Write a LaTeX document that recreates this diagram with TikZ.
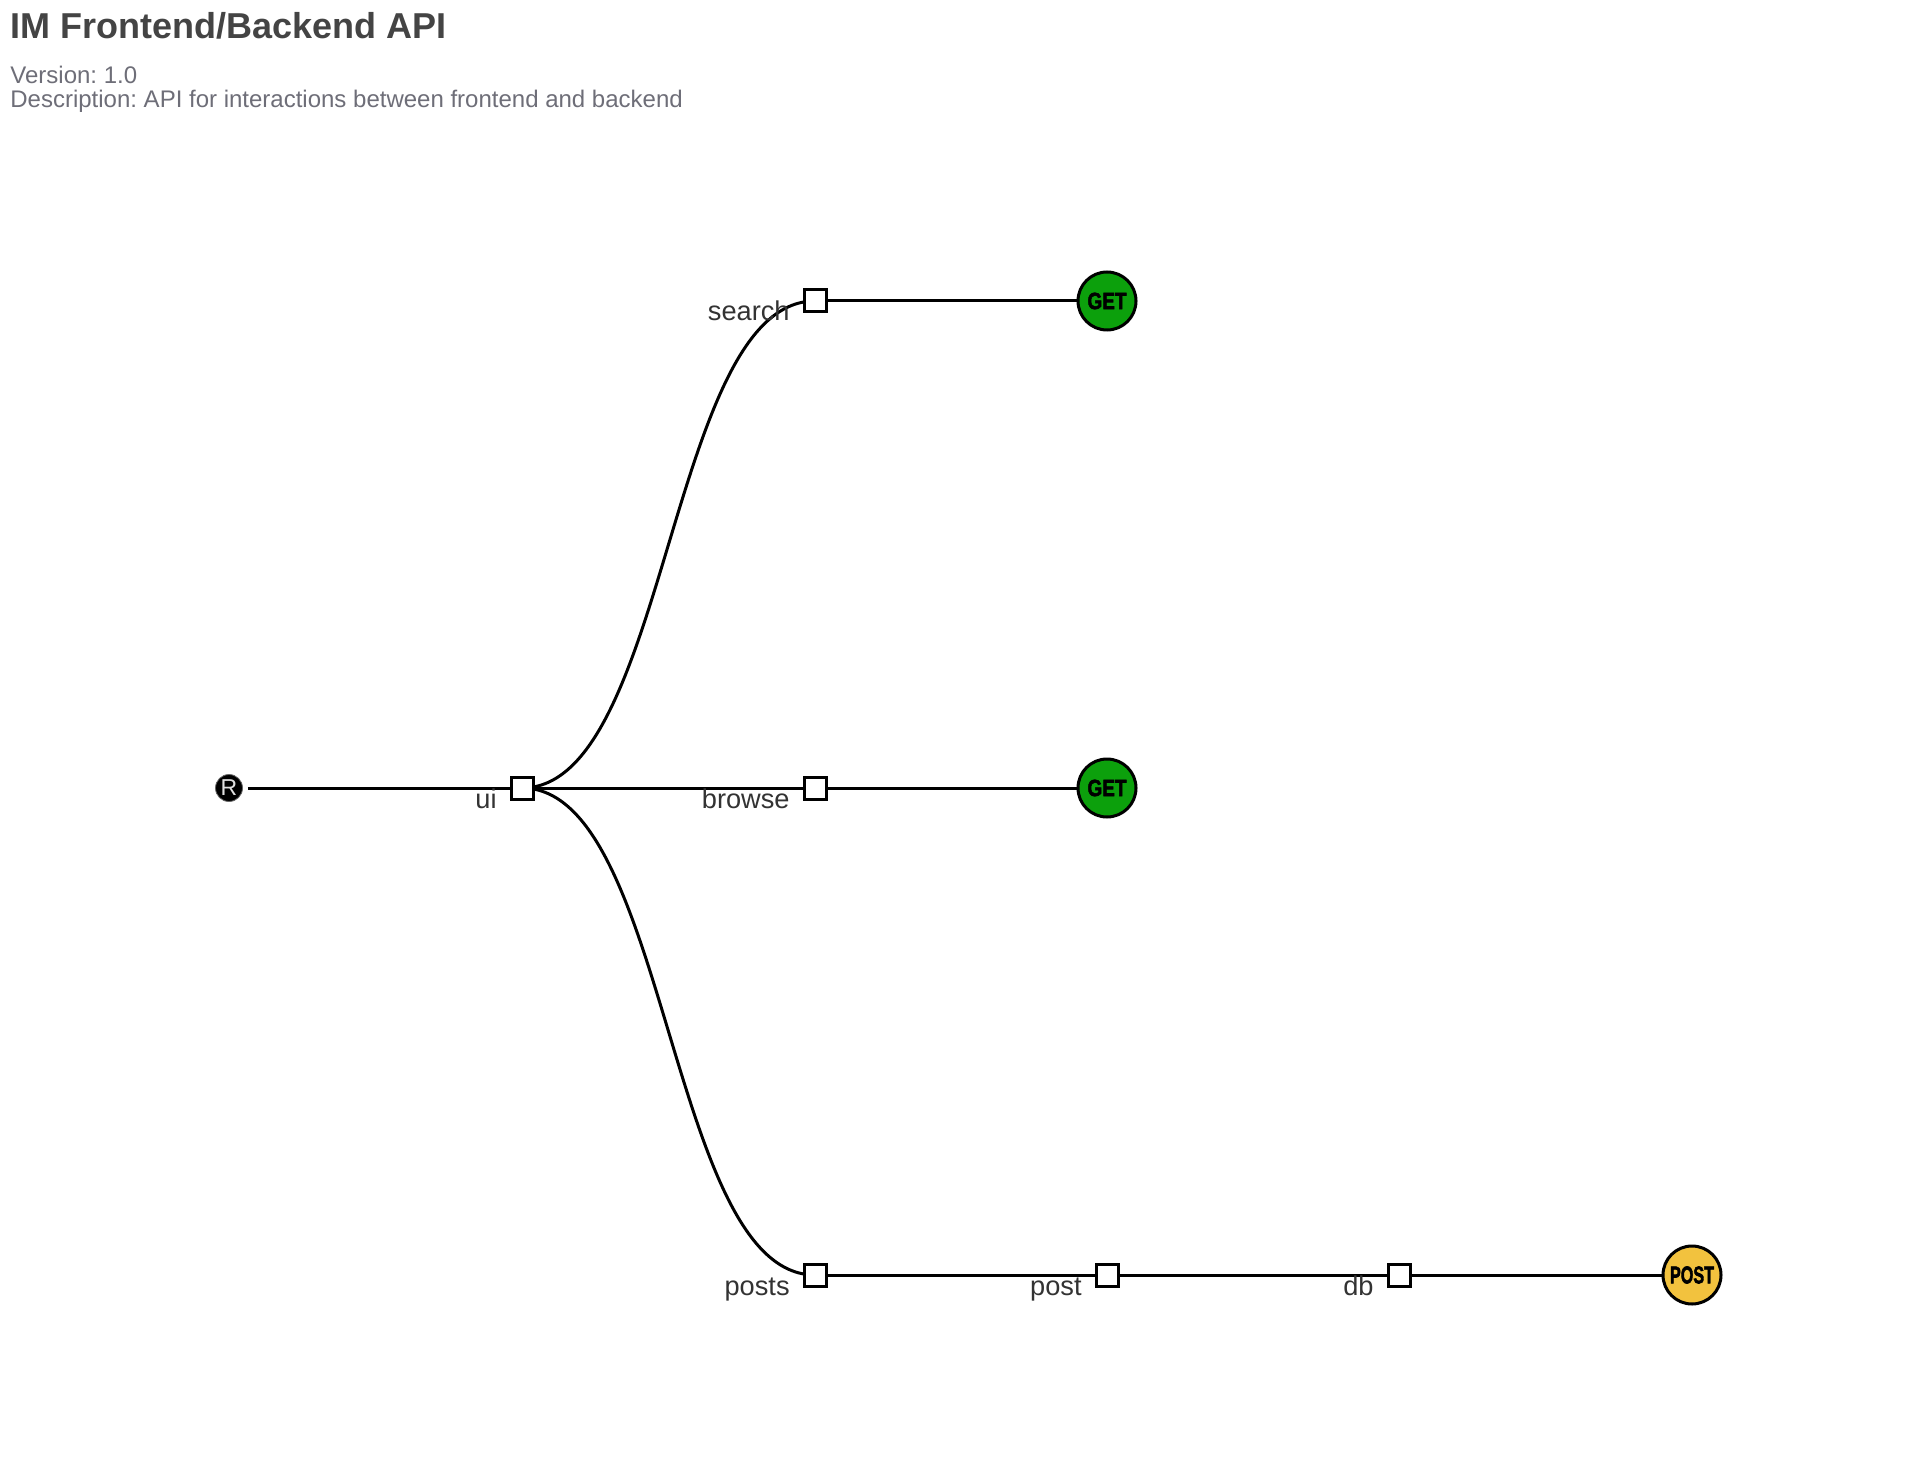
\documentclass[tikz,border=0pt]{standalone}
\usepackage{fontspec}
\setmainfont{Liberation Sans}
\newfontfamily\methfont[FakeBold=2.5]{Liberation Sans Bold}
\usetikzlibrary{calc}
\pgfdeclarelayer{back}
\pgfdeclarelayer{bg}
\pgfsetlayers{back,bg,main}
\definecolor{titlec}{HTML}{444444}
\definecolor{subc}{HTML}{6E6E78}
\definecolor{lblc}{HTML}{333333}
\definecolor{getc}{HTML}{0CA00C}
\definecolor{postc}{HTML}{F2C23E}
\frenchspacing
\begin{document}
\begin{tikzpicture}[x=0.5pt,y=-0.5pt,
 seg/.style={draw=black, line width=1.5pt, fill=white, rectangle, minimum size=11pt, inner sep=0pt},
 meth/.style={circle, draw=black, line width=1.5pt, minimum size=29pt, inner sep=0pt},
 rootn/.style={circle, fill=black, draw=black!60, line width=0.4pt, minimum size=13.5pt, inner sep=0pt, text=black!12, font=\fontsize{11.5pt}{12pt}\selectfont},
 lbl/.style={anchor=base east, inner sep=0pt, text=lblc, font=\fontsize{13.6pt}{16pt}\selectfont},
 link/.style={draw=black, line width=1.5pt}]
\begin{pgfonlayer}{back}
\fill[white] (0,0) rectangle (1922,1476);
\end{pgfonlayer}
\useasboundingbox (0,0) rectangle (1922,1476);
% header
\node[anchor=base west, inner sep=0pt, text=titlec, font=\bfseries\fontsize{18pt}{21pt}\selectfont] (title) at (10,39) {IM Frontend/Backend API};
\node[anchor=base west, inner sep=0pt, text=subc, font=\fontsize{12pt}{14pt}\selectfont] (version) at (10,84) {Version: 1.0};
\node[anchor=base west, inner sep=0pt, text=subc, font=\fontsize{12pt}{14pt}\selectfont] (descr) at (10,108) {Description: API for interactions between frontend and backend};
% nodes
\node[rootn] (root) at (229,788) {R};
\node[seg] (ui) at (522,788) {};
\node[seg] (search) at (815,301) {};
\node[seg] (browse) at (815,788) {};
\node[seg] (posts) at (815,1275) {};
\node[seg] (post) at (1107,1275) {};
\node[seg] (db) at (1399,1275) {};
\node[meth, fill=getc] (get1) at (1107,301) {\resizebox{19.5pt}{8.2pt}{\methfont GET}};
\node[meth, fill=getc] (get2) at (1107,788) {\resizebox{19.5pt}{8.2pt}{\methfont GET}};
\node[meth, fill=postc] (postm) at (1692,1275) {\resizebox{22pt}{8.5pt}{\methfont POST}};
% labels
\node[lbl] (uil) at ([xshift=-12.5pt,yshift=-10pt]ui.center) {ui};
\node[lbl] (searchl) at ([xshift=-12.5pt,yshift=-10pt]search.center) {search};
\node[lbl] (browsel) at ([xshift=-12.5pt,yshift=-10pt]browse.center) {browse};
\node[lbl] (postsl) at ([xshift=-12.5pt,yshift=-10pt]posts.center) {posts};
\node[lbl] (postl) at ([xshift=-12.5pt,yshift=-10pt]post.center) {post};
\node[lbl] (dbl) at ([xshift=-12.5pt,yshift=-10pt]db.center) {db};
% links
\begin{pgfonlayer}{bg}
\draw[link] ([xshift=2.5pt]root.east) -- (ui.center);
\draw[link] (ui.center) .. controls +(146.5,0) and +(-146.5,0) .. (search.center);
\draw[link] (ui.center) -- (browse.center);
\draw[link] (ui.center) .. controls +(146.5,0) and +(-146.5,0) .. (posts.center);
\draw[link] (search.center) -- (get1.center);
\draw[link] (browse.center) -- (get2.center);
\draw[link] (posts.center) -- (post.center);
\draw[link] (post.center) -- (db.center);
\draw[link] (db.center) -- (postm.center);
\end{pgfonlayer}
\end{tikzpicture}
\end{document}
